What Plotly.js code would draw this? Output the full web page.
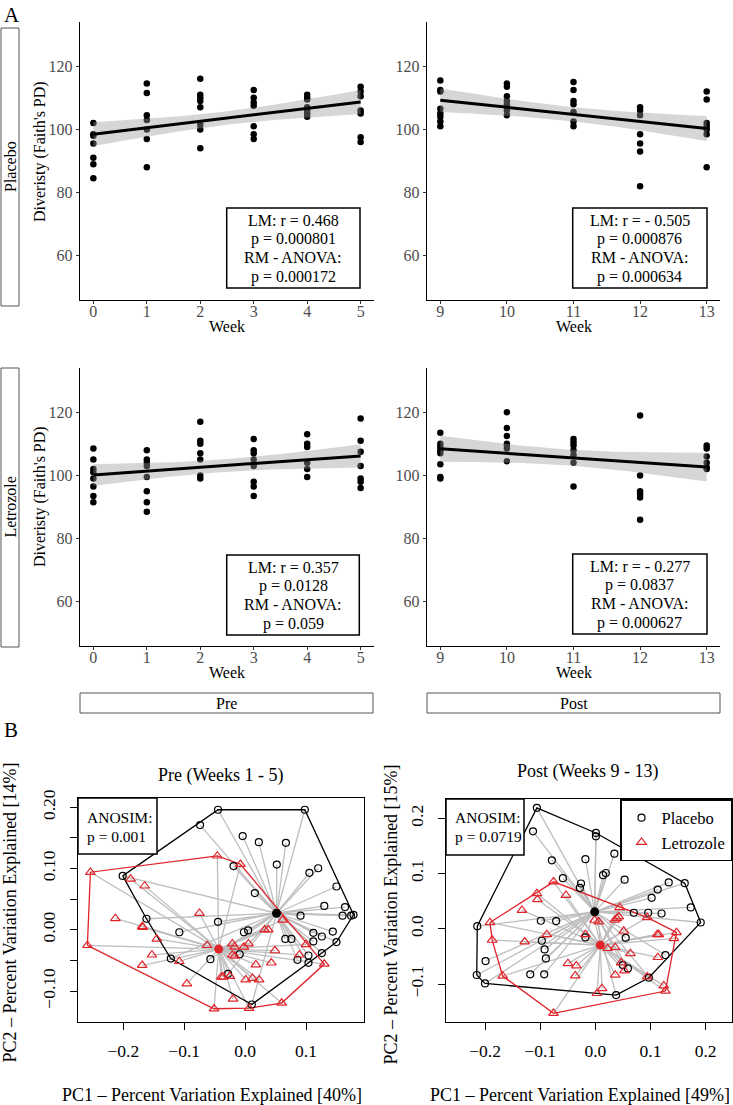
<!DOCTYPE html>
<html><head><meta charset="utf-8">
<script src="https://cdn.plot.ly/plotly-3.0.1.min.js"></script>
<style>html,body{margin:0;padding:0;background:#fff}#chart{width:733px;height:1105px}</style>
</head><body><div id="chart"></div>
<script>
// ===== Panel A data (Faith's PD by week) =====
const weeksPre = [0,1,2,3,4,5];
const weeksPost = [9,10,11,12,13];
const placeboPre = [
  [102,98.5,98,95.5,91,89,84.5],
  [114.5,111.5,104.5,103,100,97,88],
  [116,111,110,109,107,101.5,100,94],
  [112.5,110,108.5,107.5,101,98.5,97],
  [111,110,109.5,107,106,105,104],
  [113.5,112,110.5,106,105,97.5,96]];
const placeboPost = [
  [115.5,112.5,112,106.5,105,104,102.5,101],
  [114.5,113.5,110.5,109,108,107,106,104.5],
  [115,112.5,109,108,105.5,102.5,101],
  [107,106,104.5,98.5,95.5,93,82],
  [112,109.5,102,101,100,98.5,88]];
const letrozolePre = [
  [108.5,105,102,101,99,96.5,93.5,91.5],
  [108,105,104,103,99.5,95,91.5,88.5],
  [117,111,110,107,105,100,99],
  [111.5,108,107,105,103,98,96.5,93.5],
  [113,110,109,104,102,99.5],
  [118,111,107.5,103,99,98,96]];
const letrozolePost = [
  [113.5,110,109,108,107,103.5,99.5,99],
  [120,115,112.5,110,109.5,108.5,104.5],
  [111.5,110.5,109.5,108,106.5,104,96.5],
  [119,100,95,94,93,86],
  [109.5,108.5,106,104,102.5,102]];
const statsTL = ["LM: r = 0.468","p = 0.000801","RM - ANOVA:","p = 0.000172"];
const statsTR = ["LM: r = - 0.505","p = 0.000876","RM - ANOVA:","p = 0.000634"];
const statsBL = ["LM: r = 0.357","p = 0.0128","RM - ANOVA:","p = 0.059"];
const statsBR = ["LM: r = - 0.277","p = 0.0837","RM - ANOVA:","p = 0.000627"];
const yTicksA = [60,80,100,120];

// ===== Panel B data (PCoA) =====
const prePlaceboX = [-0.0445,0.098,-0.074,-0.004,0.0225,0.067,0.052,-0.019,0.1055,0.120,-0.201,0.150,0.016,0.130,0.164,0.160,0.174,0.178,0.091,-0.162,-0.0445,-0.108,-0.002,0.005,0.112,0.126,0.144,0.150,0.066,0.076,0.112,-0.009,-0.057,-0.122,0.086,0.104,0.126,0.104,-0.028,0.011];
const prePlaceboY = [0.196,0.196,0.171,0.153,0.143,0.142,0.1065,0.104,0.093,0.1005,0.088,0.0707,0.060,0.039,0.037,0.023,0.023,0.0245,0.023,0.018,0.013,-0.004,-0.004,-0.001,-0.005,-0.011,-0.003,-0.020,-0.015,-0.015,-0.019,-0.040,-0.048,-0.047,-0.049,-0.042,-0.038,-0.054,-0.072,-0.122];
const preLetrozoleX = [-0.0456,-0.0077,-0.254,-0.188,-0.165,-0.075,-0.213,-0.169,-0.168,-0.145,-0.259,-0.0626,-0.153,-0.169,-0.108,-0.0956,-0.021,-0.017,-0.002,0.0055,-0.021,-0.017,0.032,0.038,0.0615,0.100,0.049,0.089,0.130,0.0176,0.043,-0.039,-0.036,-0.025,0.001,0.012,0.023,-0.0198,-0.051,0.0066,0.060];
const preLetrozoleY = [0.1207,0.107,0.094,0.083,0.0717,0.027,0.0185,0.0054,0.004,-0.015,-0.0255,-0.0255,-0.041,-0.058,-0.0516,-0.088,-0.0228,-0.028,-0.028,-0.0228,-0.041,-0.043,0.0,0.0,0.016,-0.024,-0.034,-0.041,-0.056,-0.057,-0.054,-0.077,-0.077,-0.076,-0.0815,-0.079,-0.0815,-0.113,-0.129,-0.128,-0.1196];
const postPlaceboX = [-0.106,-0.113,0.001,0.001,-0.0788,-0.018,0.0345,0.014,0.019,-0.0588,-0.026,-0.028,0.053,0.133,0.162,0.113,0.102,0.173,0.191,0.0697,0.0958,0.12,-0.214,-0.0988,-0.071,-0.018,-0.097,-0.092,-0.0897,0.055,-0.199,-0.118,-0.0927,-0.215,-0.2,0.127,0.0497,0.059,0.097,0.0376];
const postPlaceboY = [0.219,0.1765,0.1735,0.1675,0.124,0.126,0.136,0.097,0.101,0.0916,0.082,0.074,0.089,0.084,0.0825,0.071,0.056,0.0386,0.0114,0.029,0.029,0.0277,0.0048,0.0145,0.0139,-0.0157,-0.0217,-0.0373,-0.0536,-0.0163,-0.0584,-0.0825,-0.0825,-0.0837,-0.099,-0.0476,-0.0657,-0.0717,-0.0886,-0.12];
const postLetrozoleX = [-0.0758,-0.106,-0.105,-0.0533,-0.133,-0.191,-0.187,-0.128,-0.088,-0.168,-0.0758,-0.0497,-0.0345,-0.0364,-0.018,-0.0012,0.006,0.0224,0.036,0.035,0.039,0.0424,0.044,0.0515,0.0636,0.0467,0.0527,0.036,0.094,0.112,0.115,0.147,0.1424,0.1133,0.094,0.124,0.127,0.012,0.003];
const postLetrozoleY = [0.085,0.0639,0.053,0.0608,0.0337,0.0114,-0.0205,-0.0235,-0.0102,-0.0855,-0.153,-0.0627,-0.0669,-0.085,-0.0102,0.0157,0.0127,-0.0355,-0.0337,0.0157,0.0187,0.0217,0.0386,-0.0042,-0.0446,-0.0614,-0.0759,-0.0837,0.0205,-0.0102,-0.0102,-0.0066,-0.0175,-0.0518,-0.0867,-0.103,-0.1127,-0.108,-0.117];
const preCentroidPlacebo = [0.0516,0.027];
const preCentroidLetrozole = [-0.0434,-0.0315];
const postCentroidPlacebo = [-0.0012,0.0307];
const postCentroidLetrozole = [0.009,-0.0295];
const anosimPre = ["ANOSIM:","p = 0.001"];
const anosimPost = ["ANOSIM:","p = 0.0719"];
const groupNames = ["Placebo","Letrozole"];

// ===== helpers =====
const W=733,H=1105;
const PX=x=>x/W, PY=y=>1-y/H;
const SERIF="Liberation Serif, Times New Roman, serif";
const RED="#E0242A";

function tQuant(df){const z=1.959964;return z+(z*z*z+z)/(4*df)+(5*Math.pow(z,5)+16*z*z*z+3*z)/(96*df*df);}

function panelA(weeks, groups, xa, ya){
  const xs=[],ys=[];
  weeks.forEach((w,i)=>groups[i].forEach(v=>{xs.push(w);ys.push(v);}));
  const n=xs.length, mx=xs.reduce((a,b)=>a+b)/n, my=ys.reduce((a,b)=>a+b)/n;
  let sxx=0,sxy=0; for(let i=0;i<n;i++){sxx+=(xs[i]-mx)**2;sxy+=(xs[i]-mx)*(ys[i]-my);}
  const b=sxy/sxx, a=my-b*mx;
  let sse=0; for(let i=0;i<n;i++){sse+=(ys[i]-a-b*xs[i])**2;}
  const s2=sse/(n-2), t=tQuant(n-2);
  const x0=Math.min(...weeks), x1=Math.max(...weeks), gx=[], fy=[], lo=[], hi=[];
  for(let k=0;k<=80;k++){const x=x0+(x1-x0)*k/80;gx.push(x);const f=a+b*x;const se=Math.sqrt(s2*(1/n+(x-mx)**2/sxx));fy.push(f);lo.push(f-t*se);hi.push(f+t*se);}
  return [
    {type:'scatter',mode:'markers',x:xs,y:ys,xaxis:xa,yaxis:ya,marker:{color:'#000',size:6.5},showlegend:false,hoverinfo:'skip'},
    {type:'scatter',mode:'lines',x:gx.concat(gx.slice().reverse()),y:hi.concat(lo.slice().reverse()),fill:'toself',fillcolor:'rgba(153,153,153,0.4)',line:{width:0},xaxis:xa,yaxis:ya,showlegend:false,hoverinfo:'skip'},
    {type:'scatter',mode:'lines',x:gx,y:fy,line:{color:'#000',width:3},xaxis:xa,yaxis:ya,showlegend:false,hoverinfo:'skip'}
  ];
}

function hull(xs,ys){
  const p=xs.map((x,i)=>[x,ys[i]]).sort((a,b)=>a[0]-b[0]||a[1]-b[1]);
  const cr=(o,a,b)=>(a[0]-o[0])*(b[1]-o[1])-(a[1]-o[1])*(b[0]-o[0]);
  const lower=[],upper=[];
  for(const q of p){while(lower.length>=2&&cr(lower[lower.length-2],lower[lower.length-1],q)<=0)lower.pop();lower.push(q);}
  for(let i=p.length-1;i>=0;i--){const q=p[i];while(upper.length>=2&&cr(upper[upper.length-2],upper[upper.length-1],q)<=0)upper.pop();upper.push(q);}
  const h=lower.slice(0,-1).concat(upper.slice(0,-1)); h.push(h[0]);
  return {x:h.map(q=>q[0]),y:h.map(q=>q[1])};
}

function spider(xs,ys,c){const X=[],Y=[];xs.forEach((x,i)=>{X.push(c[0],x,null);Y.push(c[1],ys[i],null);});return {x:X,y:Y};}

function panelB(pX,pY,lX,lY,cP,cL,xa,ya,legend){
  const sP=spider(pX,pY,cP), sL=spider(lX,lY,cL), hP=hull(pX,pY), hL=hull(lX,lY);
  const base={type:'scatter',xaxis:xa,yaxis:ya,hoverinfo:'skip',showlegend:false};
  return [
    Object.assign({},base,{mode:'lines',x:sP.x,y:sP.y,line:{color:'#BEBEBE',width:1.3}}),
    Object.assign({},base,{mode:'lines',x:sL.x,y:sL.y,line:{color:'#BEBEBE',width:1.3}}),
    Object.assign({},base,{mode:'lines',x:hP.x,y:hP.y,line:{color:'#000',width:1.3}}),
    Object.assign({},base,{mode:'lines',x:hL.x,y:hL.y,line:{color:RED,width:1.3}}),
    Object.assign({},base,{mode:'markers',x:pX,y:pY,name:groupNames[0],showlegend:legend,marker:{symbol:'circle-open',size:7,color:'#000',line:{width:1.2,color:'#000'}}}),
    Object.assign({},base,{mode:'markers',x:lX,y:lY,name:groupNames[1],showlegend:legend,marker:{symbol:'triangle-up-open',size:8.5,color:RED,line:{width:1.2,color:RED}}}),
    Object.assign({},base,{mode:'markers',x:[cP[0]],y:[cP[1]],marker:{symbol:'circle',size:9,color:'#000'}}),
    Object.assign({},base,{mode:'markers',x:[cL[0]],y:[cL[1]],marker:{symbol:'circle',size:9,color:RED}})
  ];
}

const data=[].concat(
  panelA(weeksPre,placeboPre,'x','y'),
  panelA(weeksPost,placeboPost,'x2','y2'),
  panelA(weeksPre,letrozolePre,'x3','y3'),
  panelA(weeksPost,letrozolePost,'x4','y4'),
  panelB(prePlaceboX,prePlaceboY,preLetrozoleX,preLetrozoleY,preCentroidPlacebo,preCentroidLetrozole,'x5','y5',false),
  panelB(postPlaceboX,postPlaceboY,postLetrozoleX,postLetrozoleY,postCentroidPlacebo,postCentroidLetrozole,'x6','y6',true)
);

const axA={showline:true,linecolor:'#000',linewidth:1.4,ticks:'outside',ticklen:3,tickwidth:1,tickcolor:'#333',showgrid:false,zeroline:false,automargin:false,tickfont:{family:SERIF,size:16,color:'#4d4d4d'},tickmode:'array'};
const axB={showline:true,mirror:true,linecolor:'#000',linewidth:1.3,ticks:'outside',ticklen:7,tickwidth:1,tickcolor:'#000',showgrid:false,zeroline:false,automargin:false,tickfont:{family:SERIF,size:17.5,color:'#000'},tickmode:'array'};
const mk=(base,o)=>Object.assign({},base,o);

const layout={
  width:W,height:H,margin:{l:0,r:0,t:0,b:0},paper_bgcolor:'#fff',plot_bgcolor:'rgba(0,0,0,0)',
  font:{family:SERIF,color:'#000'},
  xaxis: mk(axA,{domain:[PX(80),PX(374)],range:[-0.25,5.25],tickvals:weeksPre,anchor:'y',ticklabelstandoff:-7}),
  yaxis: mk(axA,{domain:[PY(300),PY(22)],range:[46,134],tickvals:yTicksA,anchor:'x'}),
  xaxis2:mk(axA,{domain:[PX(427),PX(720)],range:[8.8,13.2],tickvals:weeksPost,anchor:'y2',ticklabelstandoff:-7}),
  yaxis2:mk(axA,{domain:[PY(300),PY(22)],range:[46,134],tickvals:yTicksA,anchor:'x2'}),
  xaxis3:mk(axA,{domain:[PX(80),PX(374)],range:[-0.25,5.25],tickvals:weeksPre,anchor:'y3',ticklabelstandoff:-7}),
  yaxis3:mk(axA,{domain:[PY(646),PY(368)],range:[46,134],tickvals:yTicksA,anchor:'x3'}),
  xaxis4:mk(axA,{domain:[PX(427),PX(720)],range:[8.8,13.2],tickvals:weeksPost,anchor:'y4',ticklabelstandoff:-7}),
  yaxis4:mk(axA,{domain:[PY(646),PY(368)],range:[46,134],tickvals:yTicksA,anchor:'x4'}),
  xaxis5:mk(axB,{domain:[PX(78),PX(364)],range:[-0.2744,0.1952],tickvals:[-0.2,-0.1,0,0.1],ticktext:['\u22120.2','\u22120.1','0.0','0.1'],anchor:'y5',ticklabelstandoff:6}),
  yaxis5:mk(axB,{domain:[PY(1022),PY(798)],range:[-0.1506,0.2152],tickvals:[-0.1,-0.05,0,0.05,0.1,0.15,0.2],ticktext:['\u22120.10','','0.00','','0.10','','0.20'],tickangle:-90,anchor:'x5',ticklabelstandoff:8}),
  xaxis6:mk(axB,{domain:[PX(446),PX(732)],range:[-0.2707,0.2477],tickvals:[-0.2,-0.1,0,0.1,0.2],ticktext:['\u22120.2','\u22120.1','0.0','0.1','0.2'],anchor:'y6',ticklabelstandoff:6}),
  yaxis6:mk(axB,{domain:[PY(1022),PY(799)],range:[-0.1688,0.235],tickvals:[-0.1,0,0.1,0.2],ticktext:['\u22120.1','0.0','0.1','0.2'],tickangle:-90,anchor:'x6',ticklabelstandoff:8}),
  showlegend:true,
  legend:{x:PX(732),xanchor:'right',y:PY(799),yanchor:'top',bgcolor:'#fff',bordercolor:'#000',borderwidth:1.5,font:{family:SERIF,size:16.5,color:'#000'},itemwidth:30,tracegroupgap:0,itemclick:false},
  shapes:[],annotations:[]
};

function rect(x0,y0,x1,y1,col,w,fill,layer){layout.shapes.push({type:'rect',xref:'paper',yref:'paper',x0:PX(x0),x1:PX(x1),y0:PY(y1),y1:PY(y0),line:{color:col,width:w},fillcolor:fill||'rgba(0,0,0,0)',layer:layer||'above'});}
function txt(s,x,y,size,opt){layout.annotations.push(Object.assign({text:s,xref:'paper',yref:'paper',x:PX(x),y:PY(y),showarrow:false,xanchor:'center',yanchor:'middle',font:{family:SERIF,size:size,color:'#000'}},opt||{}));}

// Panel labels
txt('A',2,1,21,{xanchor:'left',yanchor:'top'});
txt('B',2,716,21,{xanchor:'left',yanchor:'top'});
// strips
rect(1,28,19,306,'#555',1,'#fff','below'); txt('Placebo',10,167,16,{textangle:-90});
rect(1,368,19,647,'#555',1,'#fff','below'); txt('Letrozole',10,507.5,16,{textangle:-90});
rect(80,693,373,713,'#555',1,'#fff','below'); txt('Pre',226.5,703,16);
rect(427,693,720,713,'#555',1,'#fff','below'); txt('Post',573.5,703,16);
// axis titles A
txt("Diveristy (Faith's PD)",40,152,16,{textangle:-90});
txt("Diveristy (Faith's PD)",40,497,16,{textangle:-90});
txt('Week',227,326,16); txt('Week',573.5,326,16);
txt('Week',227,673,16); txt('Week',573.5,673,16);
// stats boxes
function statBox(lines,x0,y0,x1,y1){rect(x0,y0,x1,y1,'#000',1.5,'rgba(0,0,0,0)','above');const cx=(x0+x1)/2;lines.forEach((s,i)=>txt(s,cx,y0+12.5+i*18.7,16));}
statBox(statsTL,226.7,208,360,288);
statBox(statsTR,572.7,208,707,288);
statBox(statsBL,226.7,555,359.3,635);
statBox(statsBR,572.7,554,707,634);
// Panel B titles
txt('Pre (Weeks 1 - 5)',221,776,18);
txt('Post (Weeks 9 - 13)',588,771,18);
txt('PC2 \u2013 Percent Variation Explained [14%]',9.5,913,18,{textangle:-90});
txt('PC2 \u2013 Percent Variation Explained [15%]',390.5,915,18,{textangle:-90});
txt('PC1 \u2013 Percent Variation Explained [40%]',212,1095,18);
txt('PC1 \u2013 Percent Variation Explained [49%]',580,1095,18);
// ANOSIM boxes
rect(78,798,157,854,'#000',1.5,'#fff','above');
txt(anosimPre[0],85,817,15.5,{xanchor:'left'}); txt(anosimPre[1],85,836,15.5,{xanchor:'left'});
rect(446,799,524,855,'#000',1.5,'#fff','above');
txt(anosimPost[0],452.5,817,15.5,{xanchor:'left'}); txt(anosimPost[1],452.5,836,15.5,{xanchor:'left'});

Plotly.newPlot('chart',data,layout,{staticPlot:true,displayModeBar:false});
</script></body></html>
